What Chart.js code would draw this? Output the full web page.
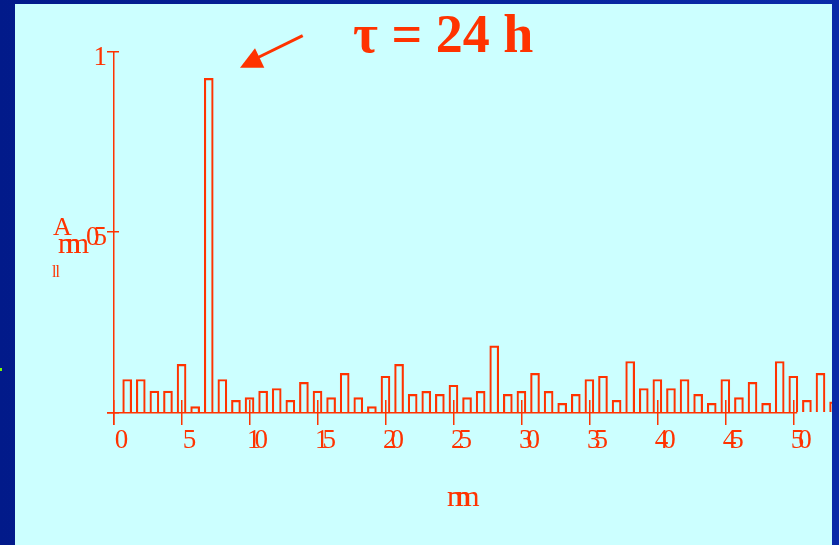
<!DOCTYPE html>
<html>
<head>
<meta charset="utf-8">
<script src="https://cdn.jsdelivr.net/npm/chart.js@4"></script>
<style>
    html, body { margin: 0; padding: 0; }
    body {
        width: 839px; height: 545px; position: relative; overflow: hidden;
        background: linear-gradient(90deg, #021a8a, #0a2aa8);
    }
    #panel { position: absolute; left: 15px; top: 4px; width: 817px; height: 541px; background: #ccffff; }
    #speck { position: absolute; left: 0; top: 368px; width: 2px; height: 3px; background: #7cfc00; }
</style>
</head>
<body>
<div id="panel"><canvas id="chart" width="817" height="541" style="width:817px;height:541px"></canvas></div>
<div id="speck"></div>
<script>
const red = '#ff3300';
const serif = '"Liberation Serif", "Times New Roman", serif';

const periods = [1, 2, 3, 4, 5, 6, 7, 8, 9, 10, 11, 12, 13, 14, 15, 16, 17, 18, 19, 20,
    21, 22, 23, 24, 25, 26, 27, 28, 29, 30, 31, 32, 33, 34, 35, 36, 37, 38, 39, 40,
    41, 42, 43, 44, 45, 46, 47, 48, 49, 50, 51, 52, 53];
const amplitudes = [0.092, 0.092, 0.060, 0.060, 0.134, 0.017, 0.926, 0.092, 0.034, 0.042,
    0.060, 0.067, 0.034, 0.084, 0.060, 0.042, 0.109, 0.042, 0.017, 0.101,
    0.134, 0.051, 0.059, 0.051, 0.076, 0.042, 0.059, 0.185, 0.051, 0.059,
    0.109, 0.059, 0.026, 0.051, 0.092, 0.101, 0.034, 0.142, 0.067, 0.092,
    0.067, 0.092, 0.051, 0.026, 0.092, 0.042, 0.084, 0.026, 0.142, 0.101,
    0.034, 0.109, 0.030];
const xTickValues = [0, 5, 10, 15, 20, 25, 30, 35, 40, 45, 50];
const xTickLabels = ['0', '5', '10', '15', '20', '25', '30', '35', '40', '45', '50'];
const yTickValues = [0, 0.5, 1];
const yTickLabels = ['', '05', '1'];
const titleText = 'τ = 24 h';
const xAxisTitle = 'mm';

// title, arrow and the odd axis captions
const overlay = {
    id: 'overlay',
    beforeDraw(chart) {
        chart.ctx.letterSpacing = '-6px'; // tick labels in the original are squeezed together
    },
    afterDraw(chart) {
        const ctx = chart.ctx;
        ctx.save();
        ctx.fillStyle = red;
        ctx.strokeStyle = red;
        ctx.textAlign = 'left';
        ctx.textBaseline = 'alphabetic';

        ctx.letterSpacing = '0px';
        ctx.font = 'bold 54px ' + serif;
        ctx.fillText(titleText, 338, 47.7);

        ctx.lineWidth = 3;
        ctx.beginPath();
        ctx.moveTo(287.7, 31.7);
        ctx.lineTo(242, 54);
        ctx.stroke();
        ctx.beginPath();
        ctx.moveTo(225, 63.7);
        ctx.lineTo(240, 44.3);
        ctx.lineTo(249.3, 63.7);
        ctx.closePath();
        ctx.fill();

        ctx.font = '26px ' + serif;
        ctx.fillText('A', 38, 231);
        ctx.letterSpacing = '-14px';
        ctx.font = '29px ' + serif;
        ctx.fillText('mm', 43, 249.3);
        ctx.letterSpacing = '-1px';
        ctx.font = '16px ' + serif;
        ctx.fillText('ll', 37, 273);

        ctx.letterSpacing = '-14px';
        ctx.font = '30px ' + serif;
        ctx.fillText(xAxisTitle, 432, 502);
        ctx.restore();
    }
};

const points = periods.map((p, i) => ({ x: p, y: amplitudes[i] }));

const chart = new Chart(document.getElementById('chart'), {
    type: 'bar',
    data: {
        datasets: [{
            data: points,
            backgroundColor: 'transparent',
            borderColor: red,
            borderWidth: 1.5,
            barThickness: 9,
            clip: false,
        }]
    },
    options: {
        responsive: false,
        animation: false,
        devicePixelRatio: 1,
        layout: { padding: { left: 0, right: 34, top: 47.7, bottom: 0 } },
        plugins: {
            legend: { display: false },
            tooltip: { enabled: false },
        },
        scales: {
            x: {
                type: 'linear',
                min: -0.485,
                max: 50.29,
                offset: false,
                afterBuildTicks: (axis) => { axis.ticks = xTickValues.map(v => ({ value: v })); },
                afterFit: (axis) => { axis.height = 120; },
                border: { display: false },
                grid: {
                    offset: false,
                    lineWidth: 1.5,
                    color: (c) => (c.tick && c.tick.value === 0) ? red : 'transparent',
                    tickColor: red,
                    tickLength: -25,
                },
                ticks: {
                    color: red,
                    font: { family: serif, size: 27 },
                    padding: 25,
                    labelOffset: 5,
                    maxRotation: 0,
                    autoSkip: false,
                    callback: (v, i) => xTickLabels[i],
                },
            },
            y: {
                min: -0.034,
                max: 1,
                afterBuildTicks: (axis) => { axis.ticks = yTickValues.map(v => ({ value: v })); },
                afterFit: (axis) => { axis.width = 92; },
                border: { display: false },
                grid: {
                    lineWidth: 1.5,
                    color: (c) => (c.tick && c.tick.value === 0) ? red : 'transparent',
                    tickColor: red,
                    tickLength: -12,
                },
                ticks: {
                    color: red,
                    font: { family: serif, size: 27 },
                    padding: 18,
                    labelOffset: 6,
                    autoSkip: false,
                    callback: (v, i) => yTickLabels[i],
                },
            },
        },
    },
    plugins: [overlay],
});
</script>
</body>
</html>
